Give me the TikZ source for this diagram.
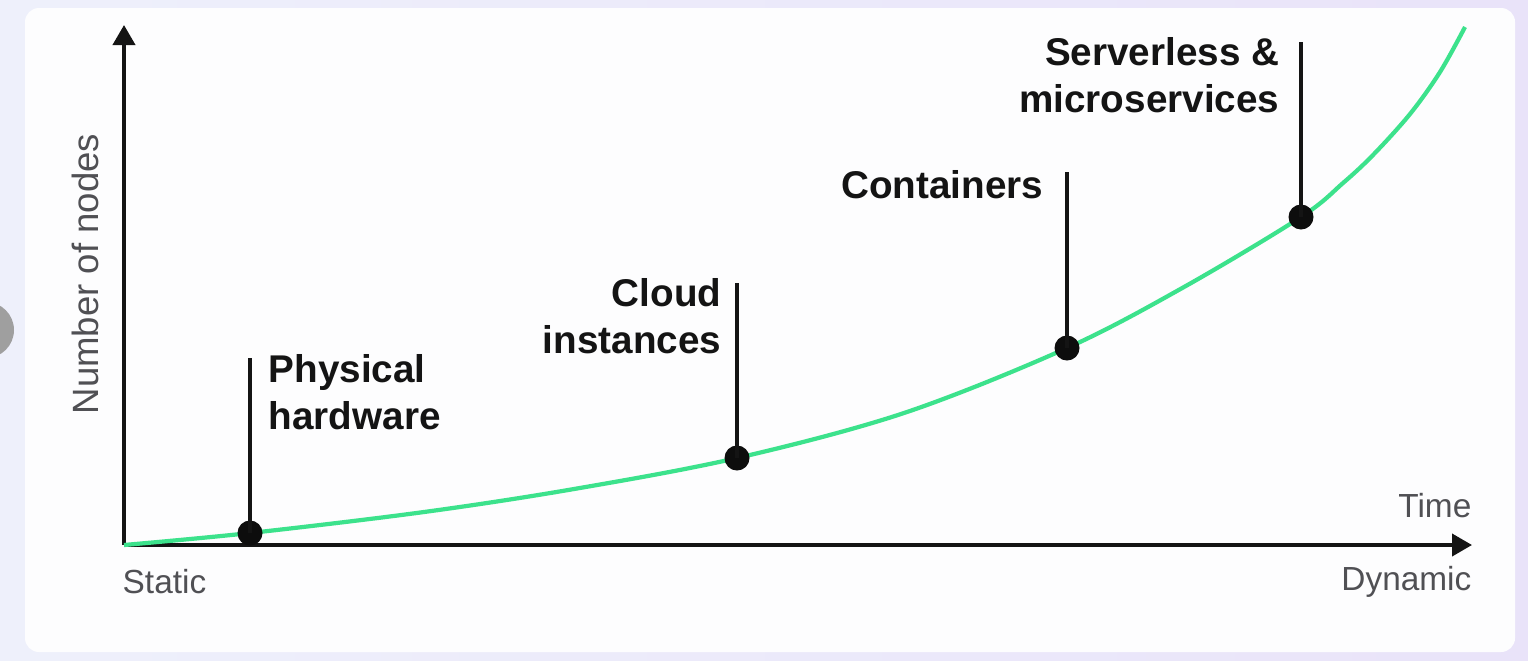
\documentclass[tikz,border=0pt]{standalone}
\usepackage{fontspec}
\setmainfont{Liberation Sans}
\usetikzlibrary{arrows.meta, positioning}
\definecolor{curvegreen}{RGB}{60,226,140}
\definecolor{axisgray}{RGB}{80,80,84}
\definecolor{bgleft}{RGB}{238,240,251}
\definecolor{bgright}{RGB}{233,227,249}
\definecolor{cardwhite}{RGB}{253,253,254}

\begin{document}
\begin{tikzpicture}[
    milestone/.style={font=\fontsize{11}{13.4}\selectfont\bfseries, inner sep=0pt, text=black!92},
    axislabel/.style={font=\fontsize{9.5}{11}\selectfont, text=axisgray, inner sep=0pt},
    axis/.style={line width=1.1pt, black!92, -{Triangle[length=0.2cm, width=0.22cm]}},
    stem/.style={line width=1.1pt, black!92},
    dot/.style={circle, fill=black!95, inner sep=0pt, minimum size=0.25cm}
]
\useasboundingbox (0,0) rectangle (15.28,6.6);

% background and card
\shade[left color=bgleft, right color=bgright] (0,0) rectangle (15.28,6.6);
\fill[gray!75] (-0.14,3.30) circle (0.28);
\fill[cardwhite, rounded corners=0.14cm] (0.25,0.08) rectangle (15.15,6.52);

% axes
\coordinate (origin) at (1.24,1.15);
\coordinate (ytip) at (1.24,6.35);
\coordinate (xtip) at (14.72,1.15);
\draw[axis] (origin) -- (ytip);
\draw[axis] (origin) -- (xtip);

\node[axislabel, font=\fontsize{10.4}{12}\selectfont, rotate=90] (ylab) at (0.85,3.86) {Number of nodes};
\node[axislabel, anchor=west] (static) at (1.22,0.78) {Static};
\node[axislabel, anchor=east] (dynamic) at (14.72,0.78) {Dynamic};
\node[axislabel, anchor=east] (time) at (14.72,1.54) {Time};

% growth curve
\draw[curvegreen, line width=1.2pt] plot[smooth, tension=0.55] coordinates {
    (1.24,1.15) (2.50,1.27) (4.24,1.48) (5.74,1.71) (7.37,2.02) (9.04,2.47)
    (10.67,3.12) (11.84,3.73) (13.01,4.43) (13.43,4.77) (13.73,5.05)
    (14.10,5.46) (14.40,5.88) (14.65,6.33)};

% milestones
\node[dot] (phys) at (2.50,1.27) {};
\node[dot] (cloud) at (7.37,2.02) {};
\node[dot] (cont) at (10.67,3.12) {};
\node[dot] (serv) at (13.01,4.43) {};

\coordinate (physTop) at (2.50,3.02);
\coordinate (cloudTop) at (7.37,3.77);
\coordinate (contTop) at (10.67,4.88);
\coordinate (servTop) at (13.01,6.18);

\draw[stem] (phys.center) -- (physTop);
\draw[stem] (cloud.center) -- (cloudTop);
\draw[stem] (cont.center) -- (contTop);
\draw[stem] (serv.center) -- (servTop);

\node[milestone, align=left, below right=-0.04cm and 0.18cm of physTop] (physTxt) {Physical\\hardware};
\node[milestone, align=right, below left=-0.05cm and 0.15cm of cloudTop] (cloudTxt) {Cloud\\instances};
\node[milestone, align=right, below left=-0.02cm and 0.23cm of contTop] (contTxt) {Containers};
\node[milestone, align=right, below left=-0.05cm and 0.21cm of servTop] (servTxt) {Serverless \&\\microservices};

\end{tikzpicture}
\end{document}
